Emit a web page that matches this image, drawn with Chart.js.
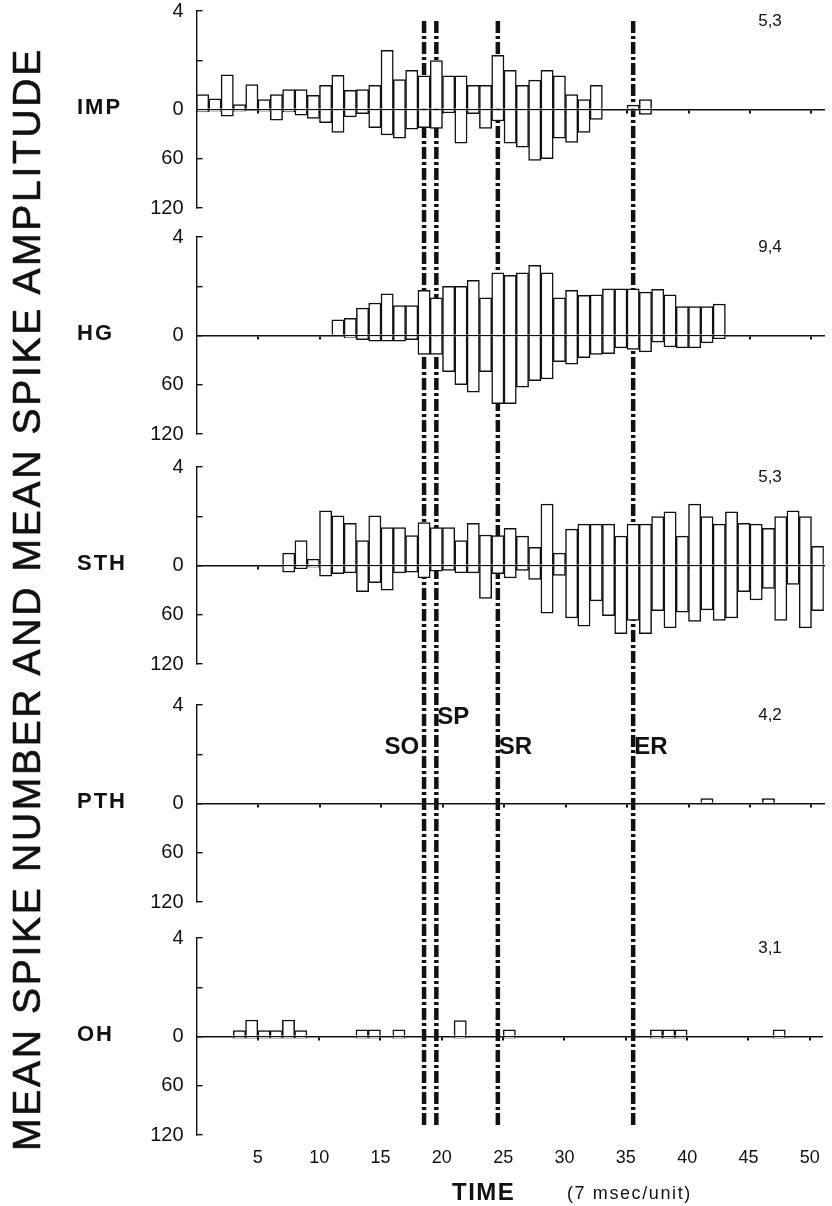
<!DOCTYPE html>
<html>
<head>
<meta charset="utf-8">
<script src="https://cdn.jsdelivr.net/npm/chart.js"></script>
<style>
  body { margin: 0; width: 832px; height: 1206px; background: #fff; position: relative; overflow: hidden;
         font-family: "Liberation Sans", Arial, sans-serif; color: #111; }
  canvas { position: absolute; left: 0; }
  #events { z-index: 0; }
  .panel { z-index: 1; }
  .txt { position: absolute; z-index: 2; white-space: nowrap; }
  #ytitle { left: -533px; top: 579px; width: 1120px; height: 40px; line-height: 40px; text-align: center;
            font-size: 39px; letter-spacing: 2.7px; transform: rotate(-90deg); -webkit-text-stroke: 0.7px #111; }
  .muscle { font-size: 22px; font-weight: bold; letter-spacing: 2px; left: 77px; height: 26px; line-height: 26px; }
  .count { font-size: 17px; left: 740px; width: 60px; text-align: center; height: 20px; line-height: 20px; }
  .event { font-size: 24px; font-weight: bold; height: 28px; line-height: 28px; }
  #time { left: 452px; top: 1178px; font-size: 24px; font-weight: bold; letter-spacing: 1.5px; line-height: 28px; }
  #unit { left: 567px; top: 1181px; font-size: 18px; letter-spacing: 1.6px; line-height: 24px; }
</style>
</head>
<body>
<div id="ytitle" class="txt">MEAN SPIKE NUMBER AND MEAN SPIKE AMPLITUDE</div>
<div id="time" class="txt">TIME</div>
<div id="unit" class="txt">(7 msec/unit)</div>
<canvas id="events" width="832" height="1206"></canvas>
<script>
// time bins of 7 msec, bar k covers [k-1, k]
var timeBins = [1,2,3,4,5,6,7,8,9,10,11,12,13,14,15,16,17,18,19,20,21,22,23,24,25,
                26,27,28,29,30,31,32,33,34,35,36,37,38,39,40,41,42,43,44,45,46,47,48,49,50,51];
var timeTicks = [5,10,15,20,25,30,35,40,45,50];
var numberMax = 4;      // spike number axis (upwards)
var amplitudeMax = 120; // spike amplitude axis (downwards)

var events = [18.5, 19.5, 24.5, 35.5];
var eventNames = ['SO', 'SP', 'SR', 'ER'];

var muscleNames = ['IMP', 'HG', 'STH', 'PTH', 'OH'];
var unitCounts = ['5,3', '9,4', '5,3', '4,2', '3,1'];

var impNumber = [0.61,0.43,1.41,0.2,1.01,0.4,0.61,0.81,0.81,0.58, 0.98,1.39,0.78,0.81,0.98,2.4,1.21,1.59,1.37,1.99,
                 1.37,1.37,0.98,0.98,2.2,1.59,0.98,1.19,1.59,1.37, 0.61,0.4,0.98,0,0,0.18,0.4,0,0,0,
                 0,0,0,0,0,0,0,0,0,0, 0];
var impAmplitude = [3,2,8,2,1,2,13,3,7,11, 16,28,9,5,22,31,35,24,22,23, 4,41,5,23,14,41,46,62,60,35,
                    40,28,12,0,0,1,6,0,0,0, 0,0,0,0,0,0,0,0,0,0, 0];

var hgNumber = [0,0,0,0,0,0,0,0,0,0, 0,0.64,0.7,1.11,1.32,1.69,1.22,1.22,1.83,1.53,
                2.0,2.0,2.24,1.53,2.54,2.44,2.54,2.85,2.54,1.53, 1.83,1.63,1.65,1.9,1.9,1.9,1.76,1.87,1.65,1.17,
                1.17,1.17,1.28,0,0,0,0,0,0,0, 0];
var hgAmplitude = [0,0,0,0,0,0,0,0,0,0, 0,1,3,5,7,7,7,5,23,23, 44,60,69,44,83,83,63,55,53,32,
                   35,27,23,22,15,17,20,8,14,15, 15,9,4,0,0,0,0,0,0,0, 0];

var sthNumber = [0,0,0,0,0,0,0,0.5,1.01,0.26, 2.22,2.02,1.71,1.01,2.02,1.54,1.54,1.21,1.74,1.54,
                 1.54,1.01,1.71,1.24,1.21,1.51,1.19,0.74,2.49,0.5, 1.48,1.68,1.68,1.68,1.19,1.68,1.68,1.99,2.18,1.19,
                 2.49,1.99,1.68,2.18,1.71,1.68,1.51,1.99,2.22,1.99, 0.78];
var sthAmplitude = [0,0,0,0,0,0,0,8,4,2, 13,10,9,32,21,30,9,8,15,7, 6,9,9,40,10,15,6,17,58,12,
                    64,74,43,61,83,67,83,55,76,57, 68,54,67,64,32,42,28,67,23,76, 55];

var pthNumber = [0,0,0,0,0,0,0,0,0,0, 0,0,0,0,0,0,0,0,0,0, 0,0,0,0,0,0,0,0,0,0,
                 0,0,0,0,0,0,0,0,0,0, 0,0.2,0,0,0,0,0.2,0,0,0, 0];
var pthAmplitude = [0,0,0,0,0,0,0,0,0,0, 0,0,0,0,0,0,0,0,0,0, 0,0,0,0,0,0,0,0,0,0,
                    0,0,0,0,0,0,0,0,0,0, 0,1,0,0,0,0,1,0,0,0, 0];

var ohNumber = [0,0,0,0.24,0.67,0.24,0.24,0.67,0.24,0, 0,0,0,0.27,0.27,0,0.27,0,0,0,
                0,0.65,0,0,0,0.27,0,0,0,0, 0,0,0,0,0,0,0,0.27,0.27,0.27, 0,0,0,0,0,0,0,0.27,0,0, 0];
var ohAmplitude = [0,0,0,2,2,2,2,2,2,0, 0,0,0,2,2,0,2,0,0,0, 0,2,0,0,0,2,0,0,0,0,
                   0,0,0,0,0,0,0,2,2,2, 0,0,0,0,0,0,0,2,0,0, 0];

var numbers = [impNumber, hgNumber, sthNumber, pthNumber, ohNumber];
var amplitudes = [impAmplitude, hgAmplitude, sthAmplitude, pthAmplitude, ohAmplitude];

// layout
var INK = '#111';
var FONT = '"Liberation Sans", Arial, sans-serif';
var PANEL_TOP = [11, 237, 467, 705, 938];
var PANEL_H = 197;
var PAD = 34;           // must exceed the y axis' own label padding (tick padding + half a label)
var PLOT_LEFT = 196.5, PLOT_RIGHT = 823.8;
var YAXIS_W = 50;
var XAXIS_H = 34;
var EVENT_TOP = 18, EVENT_BOTTOM = 1125;

var ampPerUnit = amplitudeMax / numberMax;

function setTimeTicks(axis) {
  axis.ticks = timeTicks.map(function (v) { return {value: v}; });
}

function yLabel(v) {
  if (v > 0) return v === numberMax ? String(v) : '';
  return String(-v * ampPerUnit);
}

var barStyle = {
  backgroundColor: '#fff',
  borderColor: INK,
  borderWidth: 1.5,
  borderSkipped: 'start',
  grouped: false,
  barPercentage: 1,
  categoryPercentage: 1,
  xAxisID: 'x',
  yAxisID: 'y'
};

function makePanel(i) {
  var last = i === muscleNames.length - 1;
  var cv = document.createElement('canvas');
  cv.className = 'panel';
  cv.width = 832;
  cv.height = PANEL_H + 2 * PAD + (last ? XAXIS_H : 0);
  cv.style.top = (PANEL_TOP[i] - PAD) + 'px';
  document.body.appendChild(cv);

  var scales = {
    x: {
      type: 'linear', min: 0, max: 51, offset: false, position: {y: 0}, z: 1,
      afterBuildTicks: setTimeTicks,
      border: {display: true, color: INK, width: 1.4},
      grid: {drawOnChartArea: false, drawTicks: true, tickLength: 3, color: INK, lineWidth: 2, offset: false},
      ticks: {display: false}
    },
    y: {
      type: 'linear', min: -numberMax, max: numberMax, position: 'left',
      afterFit: function (a) { a.width = YAXIS_W; },
      border: {display: true, color: INK, width: 1.4},
      grid: {drawOnChartArea: false, drawTicks: true, tickLength: -6, color: INK, lineWidth: 1.4},
      ticks: {stepSize: 2, padding: 19, color: INK, font: {size: 20, family: FONT}, callback: yLabel}
    }
  };
  if (last) {
    scales.x2 = {
      type: 'linear', min: 0, max: 51, offset: false, position: 'bottom',
      afterBuildTicks: setTimeTicks,
      afterFit: function (a) { a.height = XAXIS_H; },
      border: {display: false},
      grid: {display: false, drawTicks: false},
      ticks: {autoSkip: false, maxRotation: 0, padding: 12, color: INK, font: {size: 18, family: FONT}}
    };
  }

  new Chart(cv, {
    type: 'bar',
    data: {
      datasets: [
        Object.assign({label: muscleNames[i] + ' number',
          data: timeBins.map(function (t, k) { return {x: t - 0.5, y: numbers[i][k]}; })}, barStyle),
        Object.assign({label: muscleNames[i] + ' amplitude',
          data: timeBins.map(function (t, k) { return {x: t - 0.5, y: -amplitudes[i][k] / ampPerUnit}; })}, barStyle)
      ]
    },
    options: {
      responsive: false,
      animation: false,
      devicePixelRatio: 1,
      layout: {padding: {top: PAD, bottom: PAD, left: PLOT_LEFT - YAXIS_W, right: 832 - PLOT_RIGHT}},
      plugins: {legend: {display: false}, tooltip: {enabled: false}},
      scales: scales
    }
  });

  var zero = PANEL_TOP[i] + PANEL_H / 2;
  var name = document.createElement('div');
  name.className = 'txt muscle';
  name.style.top = (zero - 16) + 'px';
  name.textContent = muscleNames[i];
  document.body.appendChild(name);

  var cnt = document.createElement('div');
  cnt.className = 'txt count';
  cnt.style.top = (PANEL_TOP[i]) + 'px';
  cnt.textContent = unitCounts[i];
  document.body.appendChild(cnt);
}

window.onload = function () {
  // event markers, drawn under the panels so the white bars cover them
  new Chart(document.getElementById('events'), {
    type: 'line',
    data: {
      datasets: events.map(function (e, k) {
        return {label: eventNames[k], data: [{x: e, y: 0}, {x: e, y: 1}],
                borderColor: INK, borderWidth: 4.5, borderDash: [12, 3, 3, 3], pointRadius: 0};
      })
    },
    options: {
      responsive: false,
      animation: false,
      devicePixelRatio: 1,
      layout: {padding: {top: EVENT_TOP, bottom: 1206 - EVENT_BOTTOM, left: PLOT_LEFT, right: 832 - PLOT_RIGHT}},
      plugins: {legend: {display: false}, tooltip: {enabled: false}},
      scales: {
        x: {type: 'linear', min: 0, max: 51, display: false},
        y: {type: 'linear', min: 0, max: 1, display: false}
      }
    }
  });

  for (var i = 0; i < muscleNames.length; i++) makePanel(i);

  // event names beside their lines, in the PTH panel
  var unit = (PLOT_RIGHT - PLOT_LEFT) / 51;
  for (var k = 0; k < events.length; k++) {
    var px = PLOT_LEFT + events[k] * unit;
    var d = document.createElement('div');
    d.className = 'txt event';
    d.textContent = eventNames[k];
    if (k === 0) { d.style.right = (832 - px + 5) + 'px'; }
    else { d.style.left = (px + 1) + 'px'; }
    d.style.top = (k === 1 ? 702 : 732) + 'px';
    document.body.appendChild(d);
  }
};
</script>
</body>
</html>
